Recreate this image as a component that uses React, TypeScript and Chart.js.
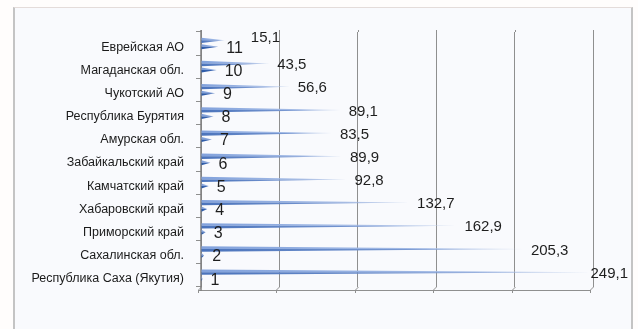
import { useEffect, useRef } from "react";
import { Chart, registerables } from "chart.js";

Chart.register(...registerables);

// Regions, listed by rank (rank 1 is drawn at the bottom)
const regions = [
  "Республика Саха (Якутия)",
  "Сахалинская обл.",
  "Приморский край",
  "Хабаровский край",
  "Камчатский край",
  "Забайкальский край",
  "Амурская обл.",
  "Республика Бурятия",
  "Чукотский АО",
  "Магаданская обл.",
  "Еврейская АО",
];
const values = [249.1, 205.3, 162.9, 132.7, 92.8, 89.9, 83.5, 89.1, 56.6, 43.5, 15.1];
const ranks = [1, 2, 3, 4, 5, 6, 7, 8, 9, 10, 11];
const axisMin = 0;
const axisMax = 250;
const axisStep = 50;

const FONT = "'Liberation Sans', Arial, sans-serif";
const GRID = "#8f8f8f";
const DEPTH = 3; // offset of the floor in front of the back wall

const fmt = (v: number) => v.toFixed(1).replace(".", ",");

// Back-wall extension above the plot and the slanted floor under it
const wallPlugin = {
  id: "wall",
  beforeDatasetsDraw(chart: any) {
    const ctx = chart.ctx as CanvasRenderingContext2D;
    const xs = chart.scales.x;
    const { top, bottom, left, right } = chart.chartArea;
    ctx.save();
    ctx.strokeStyle = GRID;
    ctx.lineWidth = 1;
    const ticks: number[] = [];
    for (let v = axisMin; v <= axisMax; v += axisStep) ticks.push(v);
    ticks.forEach((v) => {
      const px = Math.round(xs.getPixelForValue(v)) + 0.5;
      ctx.beginPath();
      ctx.moveTo(px, top - 2);
      ctx.lineTo(px, top);
      ctx.stroke();
      // slanted join down to the floor and a short tick below it
      ctx.beginPath();
      ctx.moveTo(px, bottom);
      ctx.lineTo(px - DEPTH, bottom + DEPTH);
      ctx.lineTo(px - DEPTH, bottom + DEPTH + 3);
      ctx.stroke();
    });
    // floor front edge
    ctx.beginPath();
    ctx.moveTo(Math.round(left) - DEPTH, Math.round(bottom) + DEPTH + 0.5);
    ctx.lineTo(Math.round(right) - DEPTH + 1, Math.round(bottom) + DEPTH + 0.5);
    ctx.stroke();
    // left axis runs down to the floor
    ctx.strokeStyle = "#7f7f7f";
    ctx.lineWidth = 1.5;
    ctx.beginPath();
    ctx.moveTo(left, top - 2);
    ctx.lineTo(left, bottom + DEPTH + 1);
    ctx.stroke();
    ctx.restore();
  },
};

// Draws each bar as a two-faced pyramid lying on its side, tip at the value
const pyramidPlugin = {
  id: "pyramids",
  afterDatasetsDraw(chart: any) {
    const ctx = chart.ctx as CanvasRenderingContext2D;
    const palettes = [
      { up: ["#82a2dc", "#a5bce6", "#dfe7f5"], lo: ["#4a73bb", "#7e9cd4", "#c5d3ec"] },
      { up: ["#7c9dd8", "#8fabdf", "#a9bfe6"], lo: ["#2c5aa6", "#3c67b2", "#5b80c4"] },
    ];
    chart.data.datasets.forEach((_ds: any, di: number) => {
      const meta = chart.getDatasetMeta(di);
      const pal = palettes[di];
      meta.data.forEach((bar: any) => {
        const { x, y, base, height } = bar.getProps(["x", "y", "base", "height"], true);
        const h = height / 2;
        const gUp = ctx.createLinearGradient(base, 0, x, 0);
        gUp.addColorStop(0, pal.up[0]);
        gUp.addColorStop(0.7, pal.up[1]);
        gUp.addColorStop(1, pal.up[2]);
        const gLo = ctx.createLinearGradient(base, 0, x, 0);
        gLo.addColorStop(0, pal.lo[0]);
        gLo.addColorStop(0.7, pal.lo[1]);
        gLo.addColorStop(1, pal.lo[2]);
        ctx.save();
        ctx.beginPath();
        ctx.moveTo(base, y - h);
        ctx.lineTo(x, y);
        ctx.lineTo(base, y);
        ctx.closePath();
        ctx.fillStyle = gUp;
        ctx.fill();
        ctx.beginPath();
        ctx.moveTo(base, y);
        ctx.lineTo(x, y);
        ctx.lineTo(base, y + h);
        ctx.closePath();
        ctx.fillStyle = gLo;
        ctx.fill();
        ctx.restore();
      });
    });
  },
};

// Labels beside each pyramid tip: rank numbers first, then values placed
// so they stay inside the frame and clear of the rank number below them
const labelPlugin = {
  id: "tipLabels",
  afterDatasetsDraw(chart: any) {
    const ctx = chart.ctx as CanvasRenderingContext2D;
    const limit = chart.width - 10;
    const valMeta = chart.getDatasetMeta(0);
    const rankMeta = chart.getDatasetMeta(1);
    ctx.save();
    ctx.fillStyle = "#1e1e1e";
    ctx.textBaseline = "middle";
    ctx.textAlign = "left";

    ctx.font = `16px ${FONT}`;
    const rankRight: number[] = [];
    rankMeta.data.forEach((bar: any, i: number) => {
      const text = String(ranks[i]);
      const tx = bar.x + 8;
      ctx.fillText(text, tx, bar.y + 1.5);
      rankRight[i] = tx + ctx.measureText(text).width;
    });

    ctx.font = `15px ${FONT}`;
    valMeta.data.forEach((bar: any, i: number) => {
      const text = fmt(values[i]);
      const w = ctx.measureText(text).width;
      let tx = bar.x + 8;
      let ty = bar.y + 1.5;
      if (tx < rankRight[i] + 4) {
        tx = rankRight[i] + 8;
        ty -= 4;
      }
      if (tx + w > limit) tx = limit - w;
      ctx.fillText(text, tx, ty);
    });
    ctx.restore();
  },
};

export default function App() {
  const ref = useRef<HTMLCanvasElement | null>(null);

  useEffect(() => {
    if (!ref.current) return;
    const chart = new Chart(ref.current, {
      type: "bar",
      data: {
        labels: regions,
        datasets: [
          {
            label: "Значение",
            data: values,
            backgroundColor: "rgba(0,0,0,0)",
            borderWidth: 0,
            categoryPercentage: 0.56,
            barPercentage: 0.82,
          },
          {
            label: "Место",
            data: ranks,
            backgroundColor: "rgba(0,0,0,0)",
            borderWidth: 0,
            categoryPercentage: 0.56,
            barPercentage: 0.78,
          },
        ],
      },
      options: {
        indexAxis: "y",
        responsive: false,
        animation: false,
        devicePixelRatio: 1,
        layout: { padding: { left: 0, right: 45, top: 32, bottom: 42 } },
        plugins: {
          legend: { display: false },
          tooltip: { enabled: false },
        },
        scales: {
          x: {
            min: axisMin,
            max: axisMax,
            ticks: { display: false, stepSize: axisStep },
            grid: {
              color: GRID,
              lineWidth: 1,
              drawTicks: false,
            },
            border: { display: false },
          },
          y: {
            reverse: true,
            afterFit: (scale: any) => {
              scale.width = 201;
            },
            ticks: {
              color: "#1a1a1a",
              font: { family: FONT, size: 12.5 },
              padding: 12,
              labelOffset: 3.5,
            },
            grid: {
              display: true,
              drawOnChartArea: false,
              offset: true,
              tickLength: 5,
              tickColor: GRID,
            },
            border: { display: false },
          },
        },
      },
      plugins: [wallPlugin, pyramidPlugin, labelPlugin],
    });
    return () => chart.destroy();
  }, []);

  return (
    <div
      style={{
        position: "fixed",
        left: 0,
        top: 0,
        width: 638,
        height: 329,
        background: "#fffdfc",
        overflow: "hidden",
      }}
    >
      <div
        style={{
          position: "absolute",
          left: 13,
          top: 7,
          width: 620,
          height: 340,
          boxSizing: "border-box",
          background: "#f9fafd",
          borderLeft: "2px solid #c4c4c4",
          borderRight: "2px solid #c4c4c4",
          borderTop: "1px solid #e4dcda",
        }}
      />
      <canvas
        ref={ref}
        width={638}
        height={329}
        style={{ position: "absolute", left: 0, top: 0, width: 638, height: 329 }}
      />
    </div>
  );
}
